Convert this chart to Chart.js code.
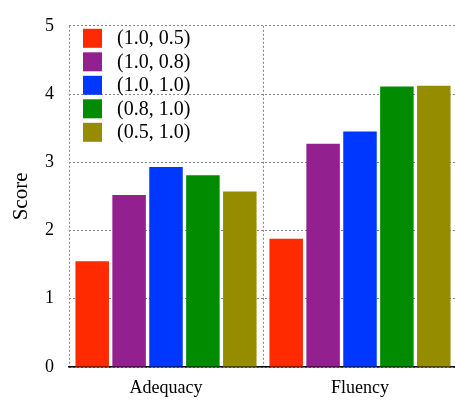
<!DOCTYPE html>
<html>
<head>
<meta charset="utf-8">
<script src="https://cdn.jsdelivr.net/npm/chart.js@4.4.1/dist/chart.umd.min.js"></script>
<style>
  html, body { margin: 0; padding: 0; background: #fff; overflow: hidden; }
  canvas { display: block; }
</style>
</head>
<body>
<canvas id="scoreChart" width="458" height="402"></canvas>
<script>
// chart data
const categories = ['Adequacy', 'Fluency'];
const seriesLabels = ['(1.0, 0.5)', '(1.0, 0.8)', '(1.0, 1.0)', '(0.8, 1.0)', '(0.5, 1.0)'];
const seriesColors = ['#ff2a00', '#92208f', '#0037ff', '#008b00', '#958c00'];
const s10_05 = [1.55, 1.88];
const s10_08 = [2.52, 3.27];
const s10_10 = [2.93, 3.45];
const s08_10 = [2.81, 4.11];
const s05_10 = [2.57, 4.12];
const yTicks = [0, 1, 2, 3, 4, 5];

const serif = "'Liberation Serif', 'Times New Roman', serif";
const allSeries = [s10_05, s10_08, s10_10, s08_10, s05_10];

// legend drawn inside the plot, top-left
const insideLegend = {
    id: 'insideLegend',
    afterDraw(chart) {
        const c = chart.ctx;
        const area = chart.chartArea;
        c.save();
        c.font = '20px ' + serif;
        c.textBaseline = 'middle';
        c.textAlign = 'left';
        chart.data.datasets.forEach((ds, i) => {
            const top = area.top + 3 + i * 23.5;
            c.fillStyle = ds.backgroundColor;
            c.fillRect(area.left + 14, top, 19, 19);
            c.fillStyle = '#000';
            c.fillText(ds.label, area.left + 48, top + 10);
        });
        c.restore();
    }
};

const ctx = document.getElementById('scoreChart').getContext('2d');
const scoreChart = new Chart(ctx, {
    type: 'bar',
    data: {
        labels: categories,
        datasets: seriesLabels.map((label, i) => ({
            label: label,
            data: allSeries[i],
            backgroundColor: seriesColors[i],
            borderWidth: 0,
            categoryPercentage: 0.951,
            barPercentage: 0.908
        }))
    },
    options: {
        responsive: false,
        animation: false,
        layout: { padding: { top: 10, right: 1, left: 0, bottom: 0 } },
        plugins: {
            legend: { display: false },
            tooltip: { enabled: false }
        },
        scales: {
            x: {
                grid: {
                    offset: true,
                    color: '#888',
                    lineWidth: 1,
                    drawTicks: false
                },
                // dash applies to the grid lines, the axis line stays solid
                border: { display: true, color: '#000', width: 1.5, dash: [2, 2] },
                ticks: {
                    color: '#000',
                    font: { family: serif, size: 18 },
                    padding: 10
                },
                afterFit(scale) { scale.height = 35; }
            },
            y: {
                min: 0,
                max: 5,
                afterBuildTicks(scale) {
                    scale.ticks = yTicks.map(v => ({ value: v }));
                },
                grid: {
                    color: '#888',
                    lineWidth: 1,
                    drawTicks: false
                },
                border: { display: false, dash: [2, 2] },
                ticks: {
                    color: '#000',
                    font: { family: serif, size: 18 },
                    padding: 15
                },
                title: {
                    display: true,
                    text: 'Score',
                    color: '#000',
                    font: { family: serif, size: 21 },
                    padding: { top: 9, bottom: 0 }
                },
                afterFit(scale) { scale.width = 69; }
            }
        }
    },
    plugins: [insideLegend]
});
</script>
</body>
</html>
